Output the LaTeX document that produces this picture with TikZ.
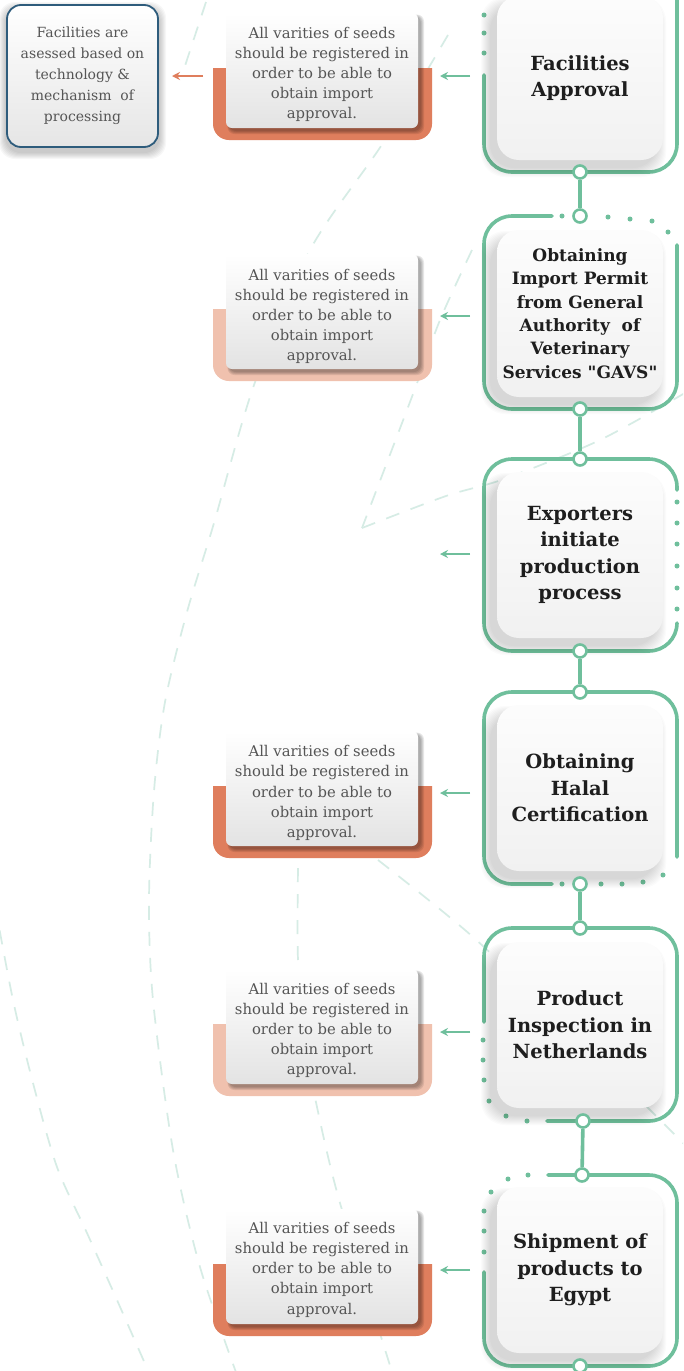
\documentclass[tikz,border=0pt]{standalone}
\usepackage{fontspec}
\setmainfont{DejaVu Serif}[Ligatures=TeXOff]
\usetikzlibrary{arrows.meta}
\definecolor{grn}{HTML}{6FBF9C}
\definecolor{orD}{HTML}{DF7E5D}
\definecolor{orL}{HTML}{F0C1AE}
\definecolor{bgl}{HTML}{D6ECE5}
\definecolor{txtg}{HTML}{555555}
\definecolor{ttl}{HTML}{1E1E1E}
\definecolor{bluebd}{HTML}{2E5C7C}
\newcommand\gshadow[4]{%
  \foreach \k in {0,...,9}{%
    \fill[black,opacity=0.016,rounded corners=24pt] ({#1-7-\k},{#2+10-\k}) rectangle ({#3-6+\k},{#4+8+\k});
  }}
\newcommand\cshadow[2]{%
  \foreach \k in {0,...,3}{%
    \fill[black,opacity=0.09,rounded corners=7pt] ({229-\k*0.5},{#1+3-\k*0.5}) rectangle ({421+\k},{#2+3+\k});
  }}
\newcommand\cardtext{All varities of seeds\\should be registered in\\order to be able to\\obtain import\\approval.}
\begin{document}
\begin{tikzpicture}[x=1pt,y=-1pt,
  frm/.style={draw=grn,line width=3.6pt,rounded corners=28pt,line cap=round},
  gdot/.style={fill=grn},
  ring/.style={circle,draw=grn,fill=white,line width=2.6pt,minimum size=13pt,inner sep=0pt},
  conn/.style={draw=grn,line width=3.6pt},
  garr/.style={draw=grn,line width=1.6pt,-{Stealth[length=8pt,width=8pt]}},
  oarr/.style={draw=orD,line width=1.6pt,-{Stealth[length=8pt,width=8pt]}},
  stepbox/.style={rounded corners=22pt,minimum width=166pt,top color=white!99!black,bottom color=white!94.5!black,align=center,text=ttl,inner sep=0pt,font=\fontsize{19.5}{26.5}\selectfont\bfseries},
  card/.style={rounded corners=6pt,minimum width=192pt,minimum height=115pt,top color=white,bottom color=white!89!black,inner sep=0pt},
  cardtxt/.style={align=center,text=txtg,inner sep=0pt,font=\fontsize{14.8}{20.2}\selectfont},
  bgdash/.style={draw=bgl,line width=1.7pt,dash pattern=on 14pt off 12pt},
]
\useasboundingbox (0,0) rectangle (683,1371);
\clip (0,0) rectangle (683,1371);
\fill[white] (0,0) rectangle (683,1371);

% background dashed curves
\draw[bgdash] plot[smooth] coordinates {(448,35) (383,143) (310,250) (254,385) (214,523) (187,612) (165,702) (154,791) (149,900) (153,1000) (173,1150) (200,1267) (237,1375)};
\draw[bgdash] (206,2) -- (182,75);
\draw[bgdash] plot[smooth] coordinates {(472,250) (440,320) (413,394) (362,528)};
\draw[bgdash] plot[smooth] coordinates {(362,528) (446,496) (504,479) (600,440) (690,390)};
\draw[bgdash] plot[smooth] coordinates {(378,860) (473,937) (580,1040) (690,1150)};
\draw[bgdash] plot[smooth] coordinates {(298,868) (298,960) (305,1040) (317,1107) (340,1203) (393,1375)};
\draw[bgdash] plot[smooth] coordinates {(-5,905) (13,1000) (33,1083) (57,1167) (87,1233) (117,1300) (150,1375)};

% green frames
\draw[frm] (484,75) -- (484,172) -- (677,172) -- (677,-40);
\foreach \y in {15,33,53} \fill[gdot] (484,\y) circle (2.5);
\draw[frm] (552,216) -- (484,216) -- (484,409) -- (677,409) -- (677,245);
\foreach \p in {(562,216),(608,217),(630,219),(652,221),(668,232)} \fill[gdot] \p circle (2.5);
\draw[frm] (677,490) -- (677,459) -- (484,459) -- (484,651) -- (677,651) -- (677,623);
\foreach \y in {502,523,544,566,588,609} \fill[gdot] (677,\y) circle (2.5);
\draw[frm] (552,884) -- (484,884) -- (484,692) -- (677,692) -- (677,857);
\foreach \p in {(562,884),(601,884),(622,884),(643,882),(663,875)} \fill[gdot] \p circle (2.5);
\draw[frm] (484,1022) -- (484,928) -- (677,928) -- (677,1121) -- (547,1121);
\foreach \p in {(483,1040),(483,1060),(484,1080),(489,1101),(506,1116),(527,1121)} \fill[gdot] \p circle (2.5);
\draw[frm] (548,1175) -- (677,1175) -- (677,1366) -- (484,1366) -- (484,1272);
\foreach \p in {(528,1175),(508,1179),(491,1192),(484,1211),(484,1231),(484,1252)} \fill[gdot] \p circle (2.5);

% step boxes
\gshadow{497}{-4}{663}{160}
\node[stepbox,minimum height=164pt] (s1) at (580,78) {Facilities\\Approval};
\gshadow{497}{230}{663}{397}
\node[stepbox,minimum height=167pt,font=\fontsize{17}{23.3}\selectfont\bfseries] (s2) at (580,313.5) {Obtaining\\Import Permit\\from General\\Authority~ of\\Veterinary\\Services "GAVS"};
\gshadow{497}{472}{663}{638}
\node[stepbox,minimum height=166pt] (s3) at (580,555) {Exporters\\initiate\\production\\process};
\gshadow{497}{705}{663}{871}
\node[stepbox,minimum height=166pt] (s4) at (580,788) {Obtaining\\Halal\\Certification};
\gshadow{497}{942}{663}{1108}
\node[stepbox,minimum height=166pt] (s5) at (580,1025) {Product\\Inspection in\\Netherlands};
\gshadow{497}{1187}{663}{1353}
\node[stepbox,minimum height=166pt] (s6) at (580,1270) {Shipment of\\products to\\Egypt};

% rings and connectors
\node[ring] (b1) at (580,172) {};
\node[ring] (t2) at (580,216) {};
\node[ring] (b2) at (580,409) {};
\node[ring] (t3) at (580,459) {};
\node[ring] (b3) at (580,651) {};
\node[ring] (t4) at (580,692) {};
\node[ring] (b4) at (580,884) {};
\node[ring] (t5) at (580,928) {};
\node[ring] (b5) at (583,1121) {};
\node[ring] (t6) at (582,1175) {};
\node[ring] (b6) at (580,1366) {};
\draw[conn] (b1) -- (t2);
\draw[conn] (b2) -- (t3);
\draw[conn] (b3) -- (t4);
\draw[conn] (b4) -- (t5);
\draw[conn] (b5) -- (t6);

% orange-based cards
\fill[orD] (213,68) [rounded corners=16pt] -- (213,140) -- (432,140) [sharp corners] -- (432,68) -- cycle;
\cshadow{13}{128}
\node[card] (c1) at (322,70.5) {};
\node[cardtxt] (c1t) at (322,74.5) {\cardtext};
\fill[orL] (213,309) [rounded corners=16pt] -- (213,381) -- (432,381) [sharp corners] -- (432,309) -- cycle;
\cshadow{254}{369}
\node[card] (c2) at (322,311.5) {};
\node[cardtxt] (c2t) at (322,316.5) {\cardtext};
\fill[orD] (213,786) [rounded corners=16pt] -- (213,858) -- (432,858) [sharp corners] -- (432,786) -- cycle;
\cshadow{731}{846}
\node[card] (c4) at (322,788.5) {};
\node[cardtxt] (c4t) at (322,793) {\cardtext};
\fill[orL] (213,1024) [rounded corners=16pt] -- (213,1096) -- (432,1096) [sharp corners] -- (432,1024) -- cycle;
\cshadow{969}{1084}
\node[card] (c5) at (322,1026.5) {};
\node[cardtxt] (c5t) at (322,1030.5) {\cardtext};
\fill[orD] (213,1264) [rounded corners=16pt] -- (213,1336) -- (432,1336) [sharp corners] -- (432,1264) -- cycle;
\cshadow{1209}{1324}
\node[card] (c6) at (322,1266.5) {};
\node[cardtxt] (c6t) at (322,1269.5) {\cardtext};

% facilities box
\foreach \k in {0,...,6}{\fill[black,opacity=0.03,rounded corners=16pt] ({7-2-\k},{5+3-\k}) rectangle ({158+2+\k},{147+6+\k});}
\node[rounded corners=14pt,minimum width=151pt,minimum height=142pt,draw=bluebd,line width=1.8pt,top color=white,bottom color=white!90!black,align=center,text=txtg,inner sep=0pt,font=\fontsize{14}{21}\selectfont] (fb) at (82.5,76) {Facilities are\\asessed based on\\technology \&\\mechanism~ of\\processing};

% arrows
\coordinate (g1s) at (470,76);   \coordinate (g1e) at (440,76);
\coordinate (g2s) at (470,316);  \coordinate (g2e) at (440,316);
\coordinate (g3s) at (470,554);  \coordinate (g3e) at (440,554);
\coordinate (g4s) at (470,793);  \coordinate (g4e) at (440,793);
\coordinate (g5s) at (470,1032); \coordinate (g5e) at (440,1032);
\coordinate (g6s) at (470,1270); \coordinate (g6e) at (440,1270);
\draw[garr] (g1s) -- (g1e);
\draw[garr] (g2s) -- (g2e);
\draw[garr] (g3s) -- (g3e);
\draw[garr] (g4s) -- (g4e);
\draw[garr] (g5s) -- (g5e);
\draw[garr] (g6s) -- (g6e);
\coordinate (o1s) at (203,76); \coordinate (o1e) at (172,76);
\draw[oarr] (o1s) -- (o1e);
\end{tikzpicture}
\end{document}
